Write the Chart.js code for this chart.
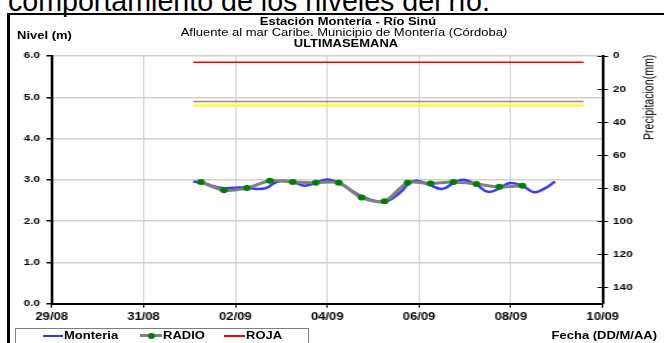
<!DOCTYPE html>
<html><head><meta charset="utf-8">
<script src="https://cdn.jsdelivr.net/npm/chart.js@4.4.1/dist/chart.umd.min.js"></script>
<style>
html,body{margin:0;padding:0;background:#fff}
body{width:664px;height:343px;overflow:hidden;position:relative;font-family:'Liberation Sans',Arial,sans-serif;color:#000}
.t{position:absolute;white-space:nowrap;line-height:1;transform-origin:0 0}
#wrap{position:absolute;left:0;top:0;height:343px;transform-origin:0 0}
.ln{position:absolute;height:0}
</style></head><body>
<div id="head" class="t">comportamiento de los niveles del río.</div>
<div id="frame" style="position:absolute;left:7px;top:13px;width:720px;height:400px;border-left:3px solid #000;border-top:2px solid #000"></div>
<div id="wrap"><canvas id="c"></canvas></div>
<div id="t1" class="t" style="font-weight:bold;font-size:10px">Estación Montería  - Río Sinú</div>
<div id="t2" class="t" style="font-size:10px">Afluente al mar Caribe. Municipio de Montería (Córdoba<i>)</i></div>
<div id="t3" class="t" style="font-weight:bold;font-size:10px">ULTIMASEMANA</div>
<div id="ylab" class="t" style="font-weight:bold;font-size:10px">Nivel (m)</div>
<div id="xlab" class="t" style="font-weight:bold;font-size:10px">Fecha (DD/M/AA)</div>
<div id="y2lab" class="t" style="font-size:10.6px">Precipitacion(mm)</div>
<div id="legbox" style="position:absolute;left:15px;top:328px;width:292px;height:30px;border:1px solid #7f7f7f"></div>
<div class="ln" style="left:43px;top:335px;width:20px;border-top:2px solid #3333ff"></div>
<div id="lg1" class="t" style="font-weight:bold;font-size:10px">Monteria</div>
<div class="ln" style="left:140px;top:334px;width:22px;border-top:3px solid #808080"></div>
<div style="position:absolute;left:148px;top:332.5px;width:7px;height:6px;border-radius:50%;background:#008000"></div>
<div id="lg2" class="t" style="font-weight:bold;font-size:10px">RADIO</div>
<div class="ln" style="left:224px;top:335px;width:21px;border-top:2px solid #ff0000"></div>
<div id="lg3" class="t" style="font-weight:bold;font-size:10px">ROJA</div>
<script>
// ---- data ----
const xTickLabels = ['29/08','31/08','02/09','04/09','06/09','08/09','10/09'];
const yLeftTicks = [0,1,2,3,4,5,6];
const yRightTicks = [0,20,40,60,80,100,120,140];
// hours counted from 01/09 00:00
const monteriaHoras = [2,8,13,17,24,30,35,40,45,49,54,60,66,72,78,84,90,96,102,106,111,115,119,125,132,138,143,150,156,162,167,174,180,186,191];
const monteriaNivel = [2.96,2.91,2.84,2.80,2.81,2.81,2.78,2.80,2.94,2.98,2.95,2.86,2.93,3.01,2.93,2.76,2.60,2.50,2.47,2.55,2.73,2.93,2.98,2.89,2.78,2.92,3.00,2.88,2.71,2.79,2.92,2.86,2.70,2.80,2.96];
const radioHoras = [6,18,30,42,54,66,78,90,102,114,126,138,150,162,174];
const radioNivel = [2.95,2.75,2.80,2.98,2.95,2.93,2.93,2.57,2.48,2.93,2.91,2.95,2.90,2.83,2.86];
const umbralHoras = [2,206];
const nivelRoja = 5.85;
const nivelNaranja = 4.90;
const nivelAmarilla = 4.80;

// ---- layout ----
const S = 1.3;                 // horizontal stretch of the chart picture
const CW = Math.round(664 / S);
const PL = 51.7, PR = 602.7, PT = 56, PB = 303.7;
const FONT = "'Liberation Sans', Arial, sans-serif";

function place(id, x, yc, align, fs) {
  const el = document.getElementById(id);
  const tx = align === 'center' ? 'translateX(-50%)' : align === 'right' ? 'translateX(-100%)' : '';
  el.style.left = x + 'px';
  el.style.top = (yc - 0.49 * fs) + 'px';
  el.style.transform = 'scaleX(' + S + ') ' + tx;
}
place('t1', 348, 22, 'center', 10);
place('t2', 344, 33, 'center', 10);
place('t3', 346, 44, 'center', 10);
place('ylab', 17, 36, 'left', 10);
place('xlab', 657, 336, 'right', 10);
place('lg1', 64, 336, 'left', 10);
place('lg2', 163, 336, 'left', 10);
place('lg3', 246, 336, 'left', 10);
// rotated right axis title
(function(){
  const el = document.getElementById('y2lab');
  el.style.transformOrigin = '50% 50%';
  const r = el.getBoundingClientRect();
  el.style.left = (648.5 - r.width / 2) + 'px';
  el.style.top = (97.5 - r.height / 2) + 'px';
  el.style.transform = 'scaleX(' + S + ') rotate(-90deg)';
})();
// cut-off heading text above the frame
(function(){
  const el = document.getElementById('head');
  let fs = 26;
  el.style.fontSize = fs + 'px';
  const w = el.getBoundingClientRect().width;
  fs = fs * 482 / w;
  el.style.fontSize = fs + 'px';
  el.style.left = '8px';
  el.style.top = (11.5 - 0.8465 * fs) + 'px';
})();

const wrap = document.getElementById('wrap');
wrap.style.width = CW + 'px';
wrap.style.transform = 'scaleX(' + S + ')';
const cv = document.getElementById('c');
cv.width = CW; cv.height = 343;
cv.style.width = CW + 'px'; cv.style.height = '343px';

const toDay = h => 3 + h / 24;
const pts = (hs, vs) => hs.map((h, i) => ({x: toDay(h), y: vs[i]}));
const flat = v => umbralHoras.map(h => ({x: toDay(h), y: v}));

const crossTicks = {
  id: 'crossTicks',
  afterDraw(chart) {
    const sc = chart.scales.y2, ctx = chart.ctx;
    ctx.save();
    ctx.strokeStyle = '#000'; ctx.lineWidth = 1;
    sc.ticks.forEach(t => {
      const y = Math.round(sc.getPixelForValue(t.value)) + 0.5;
      ctx.beginPath(); ctx.moveTo(sc.left - 4, y); ctx.lineTo(sc.left, y); ctx.stroke();
    });
    ctx.restore();
  }
};

new Chart(cv, {
  type: 'line',
  data: {
    datasets: [
      {label: 'RADIO', data: pts(radioHoras, radioNivel), borderColor: '#808080', borderWidth: 3,
       pointBackgroundColor: '#008000', pointBorderWidth: 0, pointRadius: 3, tension: 0.3, order: 1},
      {label: 'Monteria', data: pts(monteriaHoras, monteriaNivel), borderColor: '#3a3aff', borderWidth: 2.5,
       pointRadius: 0, tension: 0.4, order: 2},
      {label: 'ROJA', data: flat(nivelRoja), borderColor: '#ff0000', borderWidth: 1.5, pointRadius: 0, order: 3},
      {label: 'NARANJA', data: flat(nivelNaranja), borderColor: '#a8876a', borderWidth: 1.5, pointRadius: 0, order: 3},
      {label: 'AMARILLA', data: flat(nivelAmarilla), borderColor: '#ffff00', borderWidth: 2, pointRadius: 0, order: 3}
    ]
  },
  options: {
    responsive: false, animation: false, devicePixelRatio: 1,
    layout: {padding: {top: PT, left: 0, right: 0, bottom: 0}},
    plugins: {legend: {display: false}, title: {display: false}, tooltip: {enabled: false}},
    scales: {
      x: {
        type: 'linear', position: 'bottom', min: 0, max: 12,
        ticks: {stepSize: 2, color: '#000', font: {family: FONT, size: 10, weight: 'bold'}, padding: 4, maxRotation: 0,
                callback: v => xTickLabels[v / 2] || ''},
        grid: {color: '#d0d0d0', lineWidth: 1, tickColor: '#000', tickLength: 4},
        border: {color: '#000', width: 2},
        afterFit: sc => { sc.height = 343 - PB; }
      },
      y: {
        position: 'left', min: 0, max: 6,
        afterBuildTicks: sc => { sc.ticks = yLeftTicks.map(v => ({value: v})); },
        ticks: {color: '#000', font: {family: FONT, size: 9, weight: 'bold'}, padding: 5, callback: v => v.toFixed(1)},
        grid: {color: '#d0d0d0', lineWidth: 1.5, tickColor: '#000', tickLength: 4},
        border: {color: '#000', width: 2},
        afterFit: sc => { sc.width = PL / S; }
      },
      y2: {
        position: 'right', reverse: true, min: 0, max: 150,
        afterBuildTicks: sc => { sc.ticks = yRightTicks.map(v => ({value: v})); },
        ticks: {color: '#000', font: {family: FONT, size: 9, weight: 'bold'}, padding: 4},
        grid: {drawOnChartArea: false, tickColor: '#000', tickLength: 4},
        border: {color: '#000', width: 2},
        afterFit: sc => { sc.width = CW - PR / S; }
      }
    }
  },
  plugins: [crossTicks]
});
</script>
</body></html>
